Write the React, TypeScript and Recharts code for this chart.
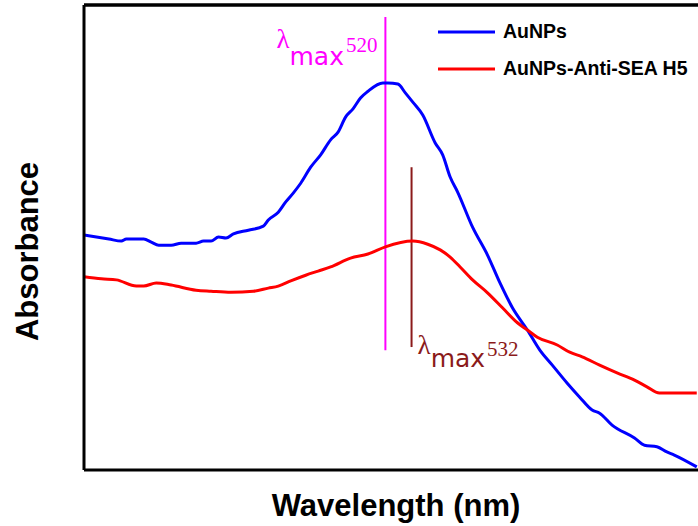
import { LineChart, Line, XAxis, YAxis, ReferenceLine, Legend } from 'recharts';

// values (absorbance in arbitrary units)
const blueWavelength = [
  400, 405, 410, 415, 417, 424, 427, 430, 435, 439, 445, 448, 451, 454, 457, 460, 466, 472, 474, 478,
  481, 484, 487, 491, 495, 499, 502, 505, 508, 511, 514, 520, 522, 526, 529, 532, 536, 541, 544, 547,
  550, 556, 562, 567, 572, 578, 583, 588, 594, 599, 604, 607, 612, 621, 625, 630, 634, 637, 646,
];
const blueAbsorbance = [
  4.55, 4.51, 4.47, 4.43, 4.47, 4.47, 4.41, 4.35, 4.35, 4.39, 4.39, 4.43, 4.43, 4.51, 4.49, 4.57, 4.64, 4.72, 4.84, 4.99,
  5.19, 5.36, 5.55, 5.86, 6.1, 6.39, 6.54, 6.83, 6.99, 7.2, 7.33, 7.49, 7.49, 7.47, 7.3, 7.12, 6.87, 6.33, 6.1, 5.67,
  5.38, 4.7, 4.16, 3.62, 3.14, 2.71, 2.32, 2.03, 1.68, 1.41, 1.16, 1.1, 0.87, 0.62, 0.48, 0.45, 0.35, 0.29, 0.06,
];

const redWavelength = [
  400, 407, 413, 421, 424, 429, 435, 445, 451, 459, 468, 474, 478, 483, 489, 494, 499, 507, 514, 521,
  532, 538, 543, 547, 551, 556, 562, 568, 574, 578, 582, 590, 595, 600, 607, 614, 621, 626, 631, 635, 646,
];
const redAbsorbance = [
  3.74, 3.7, 3.68, 3.56, 3.56, 3.62, 3.58, 3.48, 3.46, 3.44, 3.46, 3.52, 3.56, 3.66, 3.77, 3.85, 3.93, 4.1, 4.18, 4.32,
  4.43, 4.37, 4.26, 4.12, 3.93, 3.68, 3.43, 3.14, 2.85, 2.71, 2.57, 2.42, 2.28, 2.19, 2.03, 1.88, 1.74, 1.61, 1.49, 1.49, 1.49,
];

const bottomTicks = [400, 450, 500, 550, 600];
const topTicks = [400, 425, 450, 475, 500, 525, 550, 575, 600, 625];
const absTicks = [0, 1, 2, 3, 4, 5, 6, 7, 8, 9];
const absTop = 9;

// lambda max markers: position and vertical extent
const peakBlue = { wl: 521, from: 2.32, to: 8.77, text: '520' };
const peakRed = { wl: 531.5, from: 2.38, to: 5.86, text: '532' };

const auNPs = blueWavelength.map((wl, i) => ({ wl, abs: blueAbsorbance[i] }));
const antiSea = redWavelength.map((wl, i) => ({ wl, abs: redAbsorbance[i] }));

const titleFont = '"Liberation Sans", Arial, sans-serif';

function lambdaLabel(value: string, color: string, atTop: boolean) {
  return (props: any) => {
    const vb = props.viewBox;
    const x = atTop ? vb.x - 109 : vb.x + 6;
    const y = atTop ? vb.y + 31 : vb.y + vb.height + 7;
    const down = atTop ? 17 : 13;
    const up = atTop ? -13 : -11;
    return (
      <text x={x} y={y} fill={color}>
        <tspan fontFamily='"Liberation Serif", serif' fontSize={27}>λ</tspan>
        <tspan fontFamily='"DejaVu Sans", sans-serif' fontSize={25} dy={down}>max</tspan>
        <tspan fontFamily='"Liberation Serif", serif' fontSize={21} dy={up} dx={2}>{value}</tspan>
      </text>
    );
  };
}

function renderLegend(props: any) {
  const items = props.payload || [];
  return (
    <div>
      {items.map((item: any) => (
        <div key={item.value} style={{ display: 'flex', alignItems: 'center', height: 37 }}>
          <svg width={57} height={6} style={{ marginRight: 8 }}>
            <line x1={0} y1={3} x2={57} y2={3} stroke={item.color} strokeWidth={3} />
          </svg>
          <span style={{ fontFamily: titleFont, fontWeight: 'bold', fontSize: 19.5, color: '#000' }}>{item.value}</span>
        </div>
      ))}
    </div>
  );
}

export default function App() {
  return (
    <div style={{ width: 698, height: 526, background: '#fff' }}>
      <style>{'body { margin: 0; }'}</style>
      <LineChart width={698} height={526} data={auNPs} margin={{ top: 4, right: 0, bottom: 55, left: 84 }}>
        <XAxis
          dataKey="wl"
          type="number"
          domain={[400, 646.5]}
          ticks={bottomTicks}
          allowDataOverflow
          height={1}
          tick={false}
          tickSize={3}
          tickLine={{ stroke: '#000', strokeWidth: 1 }}
          axisLine={{ stroke: '#000', strokeWidth: 3 }}
          label={(p: any) => (
            <text
              x={p.viewBox.x + p.viewBox.width / 2 + 5}
              y={p.viewBox.y + 46}
              textAnchor="middle"
              fontFamily={titleFont}
              fontWeight="bold"
              fontSize={31}
              fill="#000"
            >
              Wavelength (nm)
            </text>
          )}
        />
        <XAxis
          xAxisId="top"
          orientation="top"
          dataKey="wl"
          type="number"
          domain={[400, 646.5]}
          ticks={topTicks}
          allowDataOverflow
          height={1}
          tick={false}
          tickSize={3}
          tickLine={{ stroke: '#000', strokeWidth: 1 }}
          axisLine={{ stroke: '#000', strokeWidth: 3 }}
        />
        <YAxis
          type="number"
          domain={[0, absTop]}
          ticks={absTicks}
          allowDataOverflow
          width={1}
          mirror
          tick={false}
          tickSize={4}
          tickLine={{ stroke: '#000', strokeWidth: 1 }}
          axisLine={{ stroke: '#000', strokeWidth: 3 }}
          label={(p: any) => (
            <text
              transform={`translate(${p.viewBox.x - 46}, ${p.viewBox.y + p.viewBox.height / 2 + 14}) rotate(-90)`}
              textAnchor="middle"
              fontFamily={titleFont}
              fontWeight="bold"
              fontSize={31}
              fill="#000"
            >
              Absorbance
            </text>
          )}
        />
        <ReferenceLine y={absTop} stroke="#000" strokeWidth={3} ifOverflow="visible" />
        <Legend
          layout="horizontal"
          verticalAlign="middle"
          align="center"
          content={renderLegend}
          wrapperStyle={{ left: 438, top: 13, width: 'auto' }}
        />
        <ReferenceLine
          segment={[{ x: peakBlue.wl, y: peakBlue.from }, { x: peakBlue.wl, y: peakBlue.to }]}
          stroke="#ff00ff"
          strokeWidth={2}
          label={lambdaLabel(peakBlue.text, '#ff00ff', true)}
        />
        <ReferenceLine
          segment={[{ x: peakRed.wl, y: peakRed.from }, { x: peakRed.wl, y: peakRed.to }]}
          stroke="#8b1a1a"
          strokeWidth={2}
          label={lambdaLabel(peakRed.text, '#8b1a1a', false)}
        />
        <Line
          data={auNPs}
          dataKey="abs"
          name="AuNPs"
          type="monotone"
          stroke="#0000ff"
          strokeWidth={3}
          dot={false}
          activeDot={false}
          isAnimationActive={false}
        />
        <Line
          data={antiSea}
          dataKey="abs"
          name="AuNPs-Anti-SEA H5"
          type="monotone"
          stroke="#ff0000"
          strokeWidth={3}
          dot={false}
          activeDot={false}
          isAnimationActive={false}
        />
      </LineChart>
    </div>
  );
}
